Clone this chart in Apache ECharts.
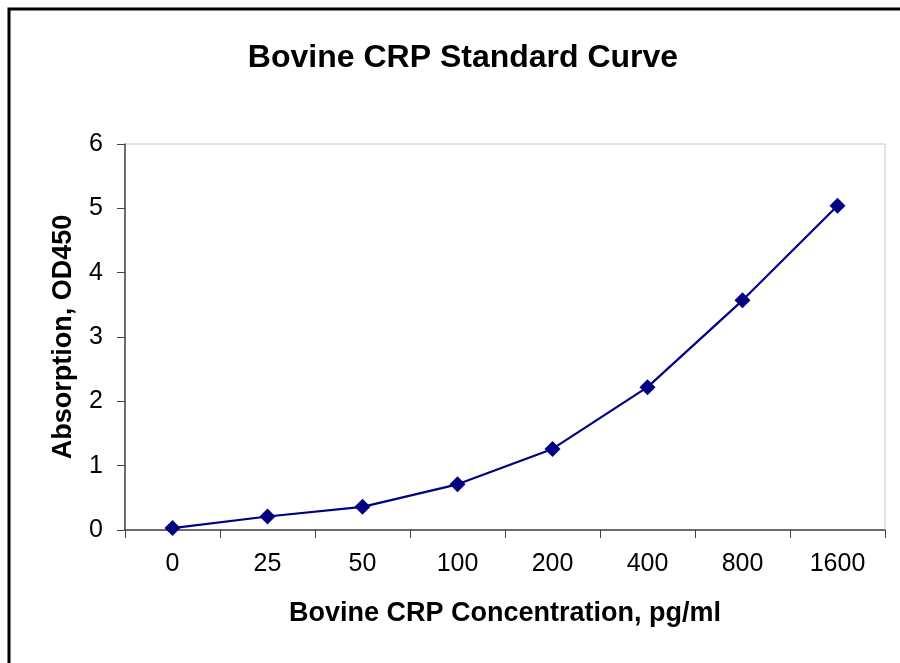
<!DOCTYPE html>
<html>
<head>
<meta charset="utf-8">
<script src="https://cdn.jsdelivr.net/npm/echarts@6/dist/echarts.min.js"></script>
<style>html,body{margin:0;padding:0;background:#fff}#c{width:900px;height:663px}</style>
</head>
<body>
<div id="c"></div>
<script>
const categories = ['0','25','50','100','200','400','800','1600'];
const absorption = [0.03, 0.21, 0.36, 0.71, 1.26, 2.22, 3.57, 5.04];
const yTicks = [0, 1, 2, 3, 4, 5, 6];

const FONT = 'Liberation Sans, Arial, sans-serif';
const chart = echarts.init(document.getElementById('c'));
chart.setOption({
  animation: false,
  backgroundColor: '#fff',
  title: {
    text: 'Bovine CRP Standard Curve',
    left: 458, top: 37, textAlign: 'center',
    textStyle: { fontFamily: FONT, fontSize: 32, fontWeight: 'bold', color: '#000' }
  },
  graphic: [{
    type: 'rect', z: 100, silent: true,
    shape: { x: 9, y: 9, width: 1000, height: 1000 },
    style: { fill: 'none', stroke: '#000', lineWidth: 3 }
  }],
  grid: { left: 125, right: 15, top: 144, bottom: 133, show: true, borderColor: '#c8c8c8', borderWidth: 1 },
  xAxis: {
    type: 'category', data: categories, boundaryGap: true,
    name: 'Bovine CRP Concentration, pg/ml', nameLocation: 'middle', nameGap: 70,
    nameTextStyle: { fontFamily: FONT, fontSize: 27, fontWeight: 'bold', color: '#000' },
    axisLine: { lineStyle: { color: '#444', width: 1.5 } },
    axisTick: { show: true, length: 8, lineStyle: { color: '#444' } },
    axisLabel: { fontFamily: FONT, fontSize: 25, color: '#000', margin: 22 },
    splitLine: { show: false }
  },
  yAxis: {
    type: 'value', min: 0, max: 6, interval: 1,
    name: 'Absorption, OD450', nameLocation: 'middle', nameGap: 48, nameRotate: 90,
    nameTextStyle: { fontFamily: FONT, fontSize: 27, fontWeight: 'bold', color: '#000' },
    axisLine: { show: true, lineStyle: { color: '#444', width: 1.5 } },
    axisTick: { show: true, length: 8, lineStyle: { color: '#444' } },
    axisLabel: { fontFamily: FONT, fontSize: 25, color: '#000', margin: 22,
      formatter: v => yTicks.includes(v) ? String(v) : '' },
    splitLine: { show: false }
  },
  series: [{
    type: 'line', data: absorption,
    symbol: 'diamond', symbolSize: 16,
    lineStyle: { color: '#000080', width: 2.2 },
    itemStyle: { color: '#000080' }
  }]
});
</script>
</body>
</html>
